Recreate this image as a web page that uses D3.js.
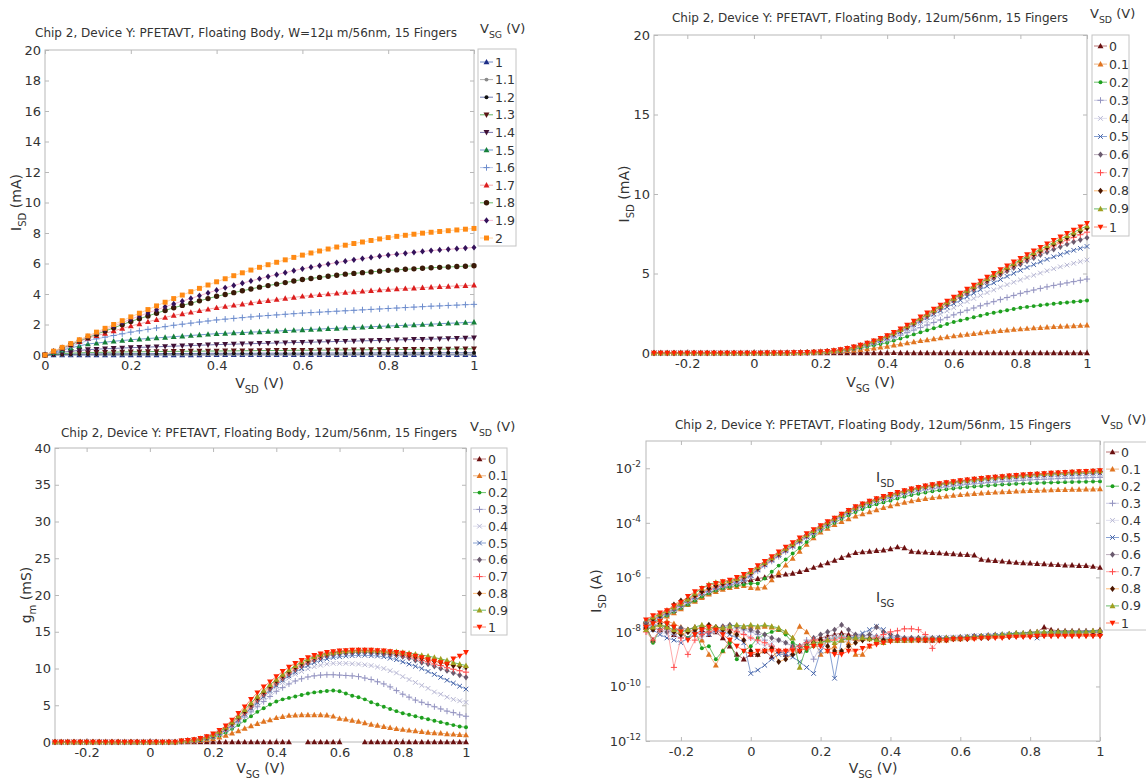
<!DOCTYPE html>
<html>
<head>
<meta charset="utf-8">
<script src="https://cdn.jsdelivr.net/npm/d3@7"></script>
<style>
  body { margin: 0; background: #fff; }
  text { font-family: "DejaVu Sans", Verdana, sans-serif; fill: #333; }
</style>
</head>
<body>
<svg id="chart" width="1146" height="783"></svg>
<script>
//---------------------------------- Output curves: I_SD (mA) vs V_SD, one row per V_SG
var vsdSweep = [0,0.02,0.04,0.06,0.08,0.1,0.12,0.14,0.16,0.18,0.2,0.22,0.24,0.26,0.28,0.3,0.32,0.34,0.36,0.38,0.4,0.42,0.44,0.46,0.48,0.5,0.52,0.54,0.56,0.58,0.6,0.62,0.64,0.66,0.68,0.7,0.72,0.74,0.76,0.78,0.8,0.82,0.84,0.86,0.88,0.9,0.92,0.94,0.96,0.98,1];
var vsgLevels = ["1","1.1","1.2","1.3","1.4","1.5","1.6","1.7","1.8","1.9","2"];
var outputIsd = [
  [0, 0,0.01,0.01,0.01,0.01, 0.01,0.01,0.01,0.01,0.01, 0.01,0.01,0.01,0.01,0.01, 0.01,0.01,0.01,0.02,0.02, 0.02,0.02,0.02,0.02,0.02, 0.02,0.02,0.02,0.02,0.02, 0.02,0.02,0.02,0.02,0.02, 0.02,0.02,0.02,0.02,0.02, 0.02,0.02,0.02,0.02,0.02, 0.02,0.02,0.02,0.02,0.02],
  [0, 0.01,0.02,0.02,0.03,0.03, 0.03,0.03,0.03,0.03,0.04, 0.04,0.04,0.04,0.04,0.04, 0.04,0.04,0.04,0.04,0.05, 0.05,0.05,0.05,0.05,0.05, 0.05,0.05,0.05,0.05,0.05, 0.05,0.05,0.05,0.05,0.05, 0.05,0.05,0.05,0.05,0.05, 0.05,0.06,0.06,0.06,0.06, 0.06,0.06,0.06,0.06,0.06],
  [0, 0.02,0.04,0.05,0.06,0.07, 0.07,0.08,0.08,0.08,0.09, 0.09,0.09,0.09,0.1,0.1, 0.1,0.1,0.1,0.11,0.11, 0.11,0.11,0.11,0.11,0.12, 0.12,0.12,0.12,0.12,0.12, 0.12,0.13,0.13,0.13,0.13, 0.13,0.13,0.13,0.14,0.14, 0.14,0.14,0.14,0.14,0.14, 0.15,0.15,0.15,0.15,0.15],
  [0, 0.05,0.09,0.12,0.14,0.16, 0.17,0.18,0.19,0.2,0.21, 0.21,0.22,0.23,0.23,0.24, 0.24,0.25,0.25,0.26,0.26, 0.27,0.27,0.28,0.28,0.29, 0.29,0.3,0.3,0.31,0.31, 0.31,0.32,0.32,0.33,0.33, 0.34,0.34,0.35,0.35,0.36, 0.36,0.37,0.37,0.38,0.38, 0.39,0.39,0.4,0.4,0.41],
  [0, 0.1,0.18,0.24,0.3,0.35, 0.38,0.41,0.43,0.46,0.48, 0.5,0.52,0.54,0.56,0.58, 0.6,0.62,0.64,0.66,0.68, 0.7,0.71,0.73,0.74,0.76, 0.77,0.79,0.8,0.82,0.83, 0.84,0.86,0.87,0.89,0.9, 0.91,0.93,0.94,0.96,0.97, 0.99,1.0,1.02,1.03,1.05, 1.06,1.08,1.09,1.11,1.12],
  [0, 0.16,0.32,0.46,0.6,0.72, 0.78,0.84,0.9,0.95,1.0, 1.04,1.08,1.12,1.16,1.2, 1.24,1.28,1.32,1.36,1.4, 1.42,1.45,1.47,1.5,1.52, 1.55,1.57,1.6,1.62,1.65, 1.68,1.7,1.73,1.75,1.78, 1.8,1.83,1.85,1.88,1.9, 1.92,1.95,1.97,2.0,2.02, 2.05,2.08,2.1,2.13,2.15],
  [0, 0.19,0.38,0.57,0.76,0.95, 1.06,1.17,1.28,1.39,1.5, 1.59,1.68,1.77,1.86,1.95, 2.02,2.09,2.16,2.23,2.3, 2.35,2.4,2.45,2.5,2.55, 2.59,2.63,2.67,2.71,2.75, 2.78,2.81,2.84,2.87,2.9, 2.93,2.96,2.99,3.02,3.05, 3.08,3.11,3.14,3.17,3.2, 3.22,3.25,3.27,3.3,3.32],
  [0, 0.22,0.44,0.66,0.88,1.1, 1.26,1.42,1.58,1.74,1.9, 2.04,2.18,2.32,2.46,2.6, 2.7,2.8,2.9,3.0,3.1, 3.18,3.26,3.34,3.42,3.5, 3.57,3.64,3.71,3.78,3.85, 3.9,3.95,4.0,4.05,4.1, 4.14,4.18,4.22,4.26,4.3, 4.33,4.36,4.39,4.42,4.45, 4.48,4.5,4.53,4.55,4.58],
  [0, 0.23,0.46,0.69,0.92,1.15, 1.36,1.57,1.78,1.99,2.2, 2.38,2.56,2.74,2.92,3.1, 3.25,3.4,3.55,3.7,3.85, 3.97,4.09,4.21,4.33,4.45, 4.55,4.65,4.75,4.85,4.95, 5.02,5.09,5.16,5.23,5.3, 5.35,5.4,5.45,5.5,5.55, 5.58,5.62,5.65,5.69,5.72, 5.75,5.77,5.8,5.82,5.85],
  [0, 0.24,0.48,0.72,0.96,1.2, 1.43,1.66,1.89,2.12,2.35, 2.56,2.76,2.96,3.16,3.35, 3.53,3.71,3.89,4.07,4.25, 4.41,4.56,4.71,4.86,5.0, 5.14,5.27,5.4,5.53,5.65, 5.76,5.86,5.96,6.06,6.15, 6.24,6.32,6.4,6.48,6.55, 6.61,6.67,6.73,6.79,6.85, 6.89,6.93,6.97,7.01,7.05],
  [0, 0.25,0.5,0.75,1.0,1.25, 1.5,1.75,2.0,2.25,2.5, 2.74,2.98,3.22,3.46,3.7, 3.93,4.15,4.37,4.59,4.8, 5.0,5.2,5.39,5.57,5.75, 5.92,6.08,6.24,6.4,6.55, 6.69,6.82,6.95,7.08,7.2, 7.31,7.41,7.51,7.61,7.7, 7.78,7.85,7.92,7.99,8.05, 8.1,8.15,8.2,8.25,8.3]
];

//---------------------------------- Transfer curves vs V_SG, one row per V_SD
var vsgSweep = [-0.3,-0.28,-0.26,-0.24,-0.22,-0.2,-0.18,-0.16,-0.14,-0.12,-0.1,-0.08,-0.06,-0.04,-0.02,0,0.02,0.04,0.06,0.08,0.1,0.12,0.14,0.16,0.18,0.2,0.22,0.24,0.26,0.28,0.3,0.32,0.34,0.36,0.38,0.4,0.42,0.44,0.46,0.48,0.5,0.52,0.54,0.56,0.58,0.6,0.62,0.64,0.66,0.68,0.7,0.72,0.74,0.76,0.78,0.8,0.82,0.84,0.86,0.88,0.9,0.92,0.94,0.96,0.98,1];
var vsdLevels = ["0","0.1","0.2","0.3","0.4","0.5","0.6","0.7","0.8","0.9","1"];

// I_SD in mA
var transferIsd = [
  [2.5e-5,3e-5,3.5e-5,4.5e-5,6e-5, 8e-5,1.1e-4,1.5e-4,2e-4,2.7e-4, 3.5e-4,4.3e-4,5.2e-4,6e-4,7e-4, 8e-4,9e-4,1e-3,1.1e-3,1.2e-3, 1.3e-3,1.4e-3,1.6e-3,1.9e-3,2.3e-3, 2.8e-3,3.4e-3,4.2e-3,5.3e-3,6.5e-3, 8e-3,8.5e-3,9e-3,9.5e-3,1e-2, 1.1e-2,1.3e-2,1.2e-2,9e-3,8.5e-3, 8.3e-3,8e-3,7.8e-3,7.5e-3,7.3e-3, 7e-3,6.8e-3,6.5e-3,4.5e-3,4.3e-3, 4.1e-3,3.9e-3,3.7e-3,3.5e-3,3.4e-3, 3.3e-3,3.2e-3,3.1e-3,3e-3,2.9e-3, 2.8e-3,2.8e-3,2.7e-3,2.7e-3,2.5e-3, 2.3e-3],
  [1.5e-5,2e-5,2.8e-5,3.8e-5,5e-5, 7e-5,1e-4,1.3e-4,1.8e-4,2.4e-4, 3e-4,3.6e-4,4.2e-4,4.6e-4,5e-4, 4.2e-4,4e-4,4.4e-4,8e-4,1.5e-3, 2.8e-3,5e-3,9e-3,1.6e-2,2.8e-2, 0.045,0.062,0.085,0.11,0.14, 0.175,0.21,0.25,0.3,0.36, 0.42,0.49,0.56,0.63,0.7, 0.77,0.83,0.89,0.95,1.01, 1.07,1.12,1.17,1.22,1.27, 1.32,1.36,1.4,1.44,1.48, 1.51,1.54,1.57,1.6,1.63, 1.65,1.67,1.69,1.71,1.73, 1.75],
  [1.6e-5,2.2e-5,3e-5,4e-5,5.5e-5, 7.5e-5,1e-4,1.4e-4,2e-4,2.6e-4, 3.3e-4,4e-4,4.5e-4,5e-4,5.5e-4, 6e-4,6e-4,9e-4,1.6e-3,2.7e-3, 4.5e-3,7.5e-3,1.2e-2,2e-2,3.3e-2, 0.052,0.073,0.1,0.14,0.19, 0.25,0.32,0.4,0.48,0.56, 0.65,0.78,0.91,1.04,1.17, 1.3,1.43,1.56,1.69,1.82, 1.95,2.05,2.15,2.25,2.35, 2.45,2.53,2.61,2.69,2.77, 2.85,2.9,2.95,3.0,3.05, 3.1,3.14,3.18,3.22,3.26, 3.3],
  [1.8e-5,2.5e-5,3.4e-5,4.5e-5,6e-5, 8.5e-5,1.2e-4,1.7e-4,2.4e-4,3e-4, 3.8e-4,4.6e-4,5.4e-4,6.2e-4,7.5e-4, 1e-3,1.7e-3,2.6e-3,3.9e-3,5.8e-3, 8.7e-3,1.3e-2,1.9e-2,2.8e-2,4e-2, 0.058,0.082,0.115,0.16,0.22, 0.3,0.39,0.49,0.59,0.69, 0.8,0.96,1.12,1.28,1.44, 1.6,1.76,1.92,2.08,2.24, 2.4,2.55,2.69,2.83,2.97, 3.1,3.23,3.36,3.49,3.62, 3.75,3.86,3.96,4.06,4.16, 4.25,4.33,4.41,4.49,4.57, 4.65],
  [2e-5,2.6e-5,3.5e-5,4.8e-5,6.5e-5, 9e-5,1.3e-4,1.8e-4,2.5e-4,3.2e-4, 4e-4,4.8e-4,5.6e-4,6.5e-4,8e-4, 1.1e-3,1.8e-3,2.8e-3,4.1e-3,6.1e-3, 9.2e-3,1.35e-2,2e-2,3e-2,4.3e-2, 0.062,0.087,0.122,0.17,0.235, 0.32,0.42,0.53,0.64,0.77, 0.9,1.08,1.27,1.46,1.65, 1.85,2.05,2.25,2.45,2.65, 2.85,3.05,3.24,3.43,3.62, 3.8,3.97,4.14,4.3,4.45, 4.6,4.75,4.89,5.03,5.17, 5.3,5.42,5.53,5.64,5.75, 5.85],
  [2e-5,2.8e-5,3.8e-5,5e-5,7e-5, 1e-4,1.4e-4,1.9e-4,2.6e-4,3.4e-4, 4.2e-4,5e-4,6e-4,7e-4,8.5e-4, 1.2e-3,1.9e-3,2.9e-3,4.3e-3,6.4e-3, 9.6e-3,1.4e-2,2.1e-2,3.1e-2,4.5e-2, 0.065,0.09,0.127,0.177,0.245, 0.33,0.43,0.54,0.66,0.8, 0.95,1.14,1.34,1.55,1.77, 2.0,2.22,2.44,2.66,2.88, 3.1,3.32,3.54,3.76,3.98, 4.2,4.41,4.62,4.82,5.01, 5.2,5.38,5.56,5.73,5.89, 6.05,6.19,6.33,6.46,6.58, 6.7],
  [2.3e-5,3e-5,4e-5,5e-5,7e-5, 1e-4,1.5e-4,2e-4,3e-4,3.5e-4, 4.5e-4,5.5e-4,6.5e-4,7.5e-4,9e-4, 1.3e-3,2e-3,3e-3,4.5e-3,6.7e-3, 1e-2,1.5e-2,2.2e-2,3.3e-2,4.7e-2, 0.068,0.095,0.133,0.185,0.255, 0.34,0.45,0.57,0.7,0.85, 1.01,1.19,1.39,1.6,1.83, 2.06,2.3,2.54,2.78,3.02, 3.26,3.5,3.74,3.98,4.22, 4.46,4.69,4.92,5.14,5.36, 5.57,5.78,5.98,6.17,6.35, 6.52,6.68,6.84,6.99,7.12, 7.25],
  [2e-5,3e-5,4.5e-5,6e-5,8e-5, 1.1e-4,1.5e-4,2e-4,2.8e-4,3.6e-4, 4.5e-4,5.5e-4,6.5e-4,8e-4,1e-3, 1.4e-3,2.1e-3,3.1e-3,4.7e-3,7e-3, 1.05e-2,1.55e-2,2.3e-2,3.4e-2,4.9e-2, 0.07,0.098,0.137,0.19,0.26, 0.35,0.46,0.58,0.71,0.86, 1.03,1.22,1.42,1.64,1.87, 2.11,2.36,2.61,2.86,3.1, 3.35,3.6,3.84,4.08,4.32, 4.56,4.8,5.03,5.26,5.49, 5.71,5.92,6.13,6.34,6.54, 6.74,6.92,7.1,7.27,7.44, 7.6],
  [2.2e-5,3e-5,4e-5,5.5e-5,1e-4, 1.4e-4,1.6e-4,2.2e-4,3e-4,4e-4, 5e-4,6e-4,7e-4,8.5e-4,1.1e-3, 1.5e-3,2.2e-3,3.3e-3,5e-3,7.4e-3, 1.1e-2,1.6e-2,2.4e-2,3.5e-2,5e-2, 0.072,0.1,0.14,0.195,0.27, 0.36,0.47,0.59,0.73,0.88, 1.05,1.24,1.45,1.67,1.91, 2.16,2.41,2.66,2.91,3.16, 3.41,3.66,3.9,4.14,4.38, 4.62,4.86,5.09,5.32,5.55, 5.77,5.99,6.21,6.42,6.63, 6.84,7.05,7.25,7.45,7.65, 7.85],
  [2.5e-5,3.5e-5,4.5e-5,6e-5,8e-5, 1.1e-4,1.6e-4,2.6e-4,4e-4,5.5e-4, 6.5e-4,7e-4,7.5e-4,9e-4,1.2e-3, 1.6e-3,2.4e-3,3.5e-3,5.2e-3,7.8e-3, 1.15e-2,1.7e-2,2.5e-2,3.6e-2,5.2e-2, 0.075,0.105,0.145,0.2,0.28, 0.37,0.48,0.6,0.74,0.9, 1.07,1.26,1.47,1.7,1.94, 2.19,2.44,2.69,2.94,3.19, 3.44,3.69,3.94,4.19,4.44, 4.68,4.92,5.16,5.4,5.63, 5.86,6.09,6.31,6.53,6.75, 6.96,7.17,7.38,7.59,7.8, 8.0],
  [2.8e-5,4e-5,5e-5,6e-5,9e-5, 1.2e-4,2e-4,3e-4,4e-4,5e-4, 6e-4,7e-4,8e-4,1e-3,1.3e-3, 1.8e-3,2.7e-3,3.9e-3,5.8e-3,8.6e-3, 1.3e-2,1.9e-2,2.8e-2,4e-2,5.7e-2, 0.08,0.11,0.15,0.21,0.29, 0.39,0.5,0.63,0.77,0.93, 1.1,1.3,1.52,1.76,2.01, 2.27,2.52,2.77,3.02,3.27, 3.52,3.77,4.02,4.27,4.52, 4.77,5.01,5.25,5.49,5.73, 5.96,6.19,6.42,6.65,6.87, 7.09,7.3,7.52,7.73,7.94, 8.15]
];

// g_m in mS (null = no point)
var transferGm = [
  [0,0,0,0,0, 0,0,0,0,0, 0,0,0,0,0, 0,0,0,0,0, 0,0,0,0,0, 0,0,0,0,0, 0,0,0,0,0, 0,0,0,null,null, 0,0,0,0,0, 0,null,null,null,0, 0,0,0,0,0, 0,0,0,0,0, 0,0,0,0,0, 0],
  [0,0,0,0,0, 0,0,0,0,0, 0,0,0,0,0, 0,0,0,0,0, 0.06,0.1,0.15,0.22,0.32, 0.45,0.65,0.9,1.2,1.5, 1.85,2.2,2.5,2.8,3.0, 3.3,3.45,3.6,3.65,3.7, 3.7,3.7,3.7,3.65,3.5, 3.2,3.1,2.95,2.8,2.6, 2.4,2.25,2.1,1.95,1.8, 1.7,1.6,1.5,1.4,1.3, 1.25,1.2,1.1,1.05,1.0, 0.95],
  [0,0,0,0,0, 0,0,0,0,0, 0,0,0,0,0, 0,0,0,0,0, 0.08,0.12,0.18,0.27,0.42, 0.6,0.9,1.3,1.8,2.3, 2.9,3.5,4.1,4.6,5.1, 5.5,5.8,6.0,6.2,6.4, 6.6,6.75,6.85,6.95,7.0, 6.9,6.6,6.3,6.1,5.8, 5.4,5.1,4.8,4.5,4.2, 3.9,3.7,3.5,3.3,3.1, 2.9,2.7,2.5,2.3,2.1, 2.0],
  [0,0,0,0,0, 0,0,0,0,0, 0,0,0,0,0, 0,0,0,0,0, 0.09,0.14,0.2,0.31,0.48, 0.7,1.0,1.5,2.0,2.7, 3.4,4.1,4.8,5.5,6.2, 6.9,7.4,7.9,8.3,8.6, 8.85,9.0,9.1,9.15,9.15, 9.1,9.05,9.0,8.9,8.7, 8.5,8.2,7.9,7.5,7.0, 6.5,6.1,5.7,5.4,5.1, 4.8,4.5,4.2,4.0,3.7, 3.5],
  [0,0,0,0,0, 0,0,0,0,0, 0,0,0,0,0, 0,0,0,0,0, 0.1,0.15,0.22,0.34,0.52, 0.75,1.1,1.6,2.2,2.9, 3.6,4.4,5.2,6.0,6.8, 7.5,8.1,8.7,9.2,9.6, 9.95,10.25,10.45,10.6,10.7, 10.7,10.7,10.65,10.6,10.5, 10.4,10.2,10.0,9.7,9.4, 8.9,8.5,8.1,7.7,7.3, 6.8,6.5,6.1,5.8,5.6, 5.4],
  [0,0,0,0,0, 0,0,0,0,0, 0,0,0,0,0, 0,0,0,0,0, 0.1,0.16,0.24,0.36,0.55, 0.8,1.2,1.7,2.3,3.0, 3.8,4.6,5.4,6.2,7.0, 7.7,8.4,9.0,9.5,10.0, 10.4,10.8,11.1,11.3,11.5, 11.6,11.7,11.75,11.8,11.8, 11.75,11.7,11.6,11.4,11.2, 10.9,10.6,10.3,10.0,9.6, 9.2,8.8,8.4,8.0,7.6, 7.2],
  [0,0,0,0,0, 0,0,0,0,0, 0,0,0,0,0, 0,0,0,0,0, 0.11,0.17,0.25,0.38,0.58, 0.85,1.25,1.75,2.4,3.1, 3.9,4.7,5.6,6.4,7.2, 7.9,8.6,9.2,9.8,10.3, 10.7,11.1,11.4,11.7,11.9, 12.0,12.1,12.15,12.2,12.2, 12.15,12.1,12.0,11.9,11.8, 11.6,11.4,11.1,10.8,10.6, 10.3,10.0,9.7,9.4,9.1, 8.8],
  [0,0,0,0,0, 0,0,0,0,0, 0,0,0,0,0, 0,0,0,0,0, 0.12,0.18,0.27,0.4,0.62, 0.9,1.3,1.8,2.5,3.2, 4.0,4.9,5.8,6.6,7.4, 8.1,8.8,9.4,10.0,10.5, 10.9,11.3,11.6,11.9,12.1, 12.2,12.3,12.35,12.4,12.4, 12.35,12.3,12.2,12.1,12.0, 11.8,11.6,11.4,11.1,10.9, 10.6,10.4,10.1,9.9,9.7, 9.5],
  [0,0,0,0,0, 0,0,0,0,0, 0,0,0,0,0, 0,0,0,0,0, 0.13,0.19,0.28,0.42,0.65, 0.95,1.4,1.9,2.6,3.4, 4.2,5.1,6.0,6.8,7.6, 8.3,9.0,9.6,10.2,10.7, 11.1,11.5,11.8,12.0,12.2, 12.3,12.35,12.4,12.45,12.45, 12.4,12.35,12.3,12.2,12.1, 12.0,11.8,11.6,11.4,11.2, 11.0,10.8,10.6,10.4,10.3, 10.2],
  [0,0,0,0,0, 0,0,0,0,0, 0,0,0,0,0, 0,0,0,0,0, 0.14,0.2,0.3,0.45,0.7, 1.0,1.45,2.0,2.7,3.5, 4.4,5.3,6.2,7.0,7.8, 8.5,9.2,9.8,10.4,10.9, 11.3,11.6,11.9,12.1,12.2, 12.3,12.4,12.45,12.5,12.5, 12.5,12.45,12.4,12.35,12.3, 12.2,12.1,11.95,11.8,11.7, 11.5,11.3,11.1,10.8,10.6, 10.4],
  [0,0,0,0,0, 0,0,0,0,0, 0,0,0,0,0, 0,0,0,0,0, 0.15,0.22,0.32,0.5,0.75, 1.1,1.6,2.2,3.0,3.9, 4.8,5.8,6.7,7.5,8.2, 8.9,9.6,10.2,10.7,11.1, 11.5,11.8,12.0,12.2,12.3, 12.4,12.45,12.5,12.5,12.5, 12.5,12.45,12.4,12.3,12.2, 12.1,11.9,11.7,11.5,11.2, 11.0,10.8,10.6,11.3,11.7, 12.2]
];

// I_SG in A
var transferIsg = [
  [1.5e-8,5e-9,1.2e-8,1.5e-8,8e-9, 1e-8,1.2e-8,1.5e-8,1.2e-8,8e-9, 1e-8,6e-9,3e-9,1.5e-9,1e-9, 1.5e-9,1.5e-9,2e-9,1.2e-9,2e-9, 1.5e-9,3e-9,2e-9,4e-9,5e-9, 6e-9,7e-9,8e-9,9e-9,8e-9, 7e-9,6e-9,6e-9,7e-9,6e-9, 5e-9,5e-9,5e-9,5.5e-9,6e-9, 5e-9,5e-9,5.5e-9,6e-9,6e-9, 6e-9,6.5e-9,7e-9,7e-9,7.5e-9, 8e-9,8e-9,8.5e-9,9e-9,9e-9, 1e-8,1e-8,1.5e-8,1.2e-8,1.1e-8, 1.1e-8,1.1e-8,1.1e-8,1.1e-8,1.1e-8, 1.2e-8],
  [2e-8,1.5e-8,2e-8,2.5e-8,2e-8, 1.5e-8,1.2e-8,8e-9,5e-9,1.5e-9, 6e-10,2e-9,5e-9,1.2e-8,1.6e-8, 1.6e-8,1.5e-8,1.6e-8,1.5e-8,1.2e-8, 1e-8,6e-9,1.6e-8,1e-8,5e-9, 1.5e-9,2e-9,3e-9,5e-9,4e-9, 1.5e-9,1.5e-9,3e-9,4e-9,5e-9, 5e-9,5e-9,5e-9,5e-9,5e-9, 5e-9,5e-9,5e-9,5e-9,5.5e-9, 5.5e-9,6e-9,6e-9,6.5e-9,6.5e-9, 7e-9,7e-9,7.5e-9,7.5e-9,8e-9, 8e-9,8e-9,8.5e-9,8.5e-9,9e-9, 9e-9,9e-9,9e-9,9e-9,9e-9, 9e-9],
  [1.5e-8,4e-9,1.2e-8,2e-8,1.5e-8, 1e-8,6e-9,1.2e-8,2.5e-9,3e-9, 1e-9,2e-9,4e-9,1e-9,2e-9, 3e-9,6e-9,8e-9,1e-8,1.2e-8, 8e-9,4e-9,3e-9,2e-9,3e-9, 4e-9,5e-9,6e-9,7e-9,6e-9, 5e-9,5e-9,5.5e-9,6e-9,5.5e-9, 5e-9,5e-9,5e-9,5e-9,5.5e-9, 5.5e-9,5.5e-9,6e-9,6e-9,6e-9, 6.5e-9,6.5e-9,7e-9,7e-9,7.5e-9, 7.5e-9,8e-9,8e-9,8.5e-9,8.5e-9, 9e-9,9e-9,9.5e-9,9.5e-9,1e-8, 1e-8,1e-8,1e-8,1e-8,1e-8, 1e-8],
  [1.5e-8,1.8e-8,2e-8,1.2e-8,8e-9, 6e-9,1e-8,1.2e-8,1.4e-8,1.2e-8, 1.4e-8,1e-8,1.2e-8,1.5e-8,1.2e-8, 1e-8,8e-9,5e-9,3e-9,2e-9, 2e-9,1.5e-9,3e-9,5e-9,1e-9, 3e-9,5e-9,6e-9,7e-9,6e-9, 6e-9,7e-9,8e-9,7e-9,6e-9, 6e-9,5.5e-9,5.5e-9,5.5e-9,5.5e-9, 5.5e-9,5.5e-9,6e-9,6e-9,6e-9, 6.5e-9,6.5e-9,7e-9,7e-9,7.5e-9, 7.5e-9,8e-9,8e-9,8e-9,8.5e-9, 8.5e-9,9e-9,9e-9,9e-9,9e-9, 9.5e-9,9.5e-9,9.5e-9,1e-8,1e-8, 1e-8],
  [2e-8,1.5e-8,1e-8,8e-9,1e-8, 1.2e-8,1e-8,8e-9,6e-9,8e-9, 1e-8,1.2e-8,1.4e-8,1.2e-8,1e-8, 6e-9,4e-9,3e-9,4e-9,5e-9, 4e-9,3e-9,2e-9,3e-9,4e-9, 5e-9,6e-9,7e-9,6e-9,5e-9, 6e-9,7e-9,7e-9,6e-9,6e-9, 6e-9,5.5e-9,5.5e-9,5.5e-9,5.5e-9, 6e-9,6e-9,6e-9,6e-9,6.5e-9, 6.5e-9,7e-9,7e-9,7e-9,7.5e-9, 7.5e-9,8e-9,8e-9,8e-9,8.5e-9, 8.5e-9,8.5e-9,9e-9,9e-9,9e-9, 9e-9,9e-9,9.5e-9,9.5e-9,9.5e-9, 9.5e-9],
  [1.8e-8,1.2e-8,8e-9,6e-9,5e-9, 4e-9,6e-9,8e-9,1e-8,8e-9, 1.2e-8,1e-8,8e-9,6e-9,4e-9, 3e-10,4e-10,6e-10,1e-9,1.5e-9, 1.5e-9,1.2e-9,8e-10,5e-10,3e-10, 2e-9,5e-9,2e-10,5e-9,6e-9, 7e-9,9e-9,1.2e-8,1.6e-8,1.2e-8, 7e-9,6e-9,5.5e-9,5.5e-9,5.5e-9, 5.5e-9,5.5e-9,6e-9,6e-9,6e-9, 6e-9,6.5e-9,7e-9,7e-9,7e-9, 7.5e-9,7.5e-9,8e-9,8e-9,8e-9, 8e-9,6e-9,8e-9,8.5e-9,9e-9, 9e-9,9e-9,9e-9,9.5e-9,9.5e-9, 9.5e-9],
  [2e-8,1.5e-8,1.2e-8,1e-8,1.2e-8, 1.4e-8,1.2e-8,1e-8,8e-9,1e-8, 1.2e-8,1.6e-8,1.8e-8,1.6e-8,1.4e-8, 1.2e-8,1e-8,8e-9,6e-9,5e-9, 4e-9,3e-9,3e-9,4e-9,6e-9, 8e-9,1e-8,1.2e-8,1.8e-8,1.2e-8, 8e-9,7e-9,8e-9,1.5e-8,1e-8, 8e-9,7e-9,6e-9,6e-9,6e-9, 6e-9,6e-9,6e-9,6e-9,6e-9, 6.5e-9,6.5e-9,7e-9,7e-9,7e-9, 7e-9,7.5e-9,7.5e-9,8e-9,8e-9, 8.5e-9,8.5e-9,9e-9,9e-9,9e-9, 9.5e-9,9.5e-9,9.5e-9,1e-8,1e-8, 1e-8],
  [1e-8,5e-9,1.2e-8,1.5e-8,5e-10, 6e-9,1.5e-9,5e-9,8e-9,1e-8, 1.2e-8,1.4e-8,1.2e-8,1e-8,8e-9, 6e-9,5e-9,4e-9,3e-9,2e-9, 2e-9,2.5e-9,3e-9,4e-9,5e-9, 5e-9,5e-9,5e-9,6e-9,6e-9, 5e-9,5e-9,5.5e-9,6e-9,8e-9, 1e-8,1.1e-8,1.3e-8,1.3e-8,1.2e-8, 8e-9,2.5e-9,5e-9,5.5e-9,5.5e-9, 6e-9,6e-9,6.5e-9,6.5e-9,7e-9, 7e-9,7e-9,7.5e-9,7.5e-9,7.5e-9, 8e-9,8e-9,8e-9,8e-9,8e-9, 8e-9,8e-9,8e-9,8e-9,8e-9, 8e-9],
  [1.5e-8,1.2e-8,2e-8,1.5e-8,1e-8, 8e-9,1e-8,1.2e-8,1.5e-8,1.8e-8, 1.5e-8,1.2e-8,1e-8,8e-9,5e-9, 2e-9,1.5e-9,2e-9,2.5e-9,8e-10, 1e-9,1.5e-9,2e-9,3e-9,4e-9, 5e-9,3e-9,2e-9,2e-9,3e-9, 4e-9,5e-9,5.5e-9,5e-9,5e-9, 5e-9,5e-9,5e-9,5e-9,5e-9, 5e-9,5e-9,5e-9,5e-9,5.5e-9, 5.5e-9,5.5e-9,6e-9,6e-9,6e-9, 6.5e-9,6.5e-9,6.5e-9,7e-9,7e-9, 7e-9,7e-9,7.5e-9,7.5e-9,7.5e-9, 7.5e-9,7.5e-9,7.5e-9,7.5e-9,7.5e-9, 7.5e-9],
  [1.2e-8,1.5e-8,1.8e-8,1.5e-8,1.2e-8, 1e-8,1.2e-8,1.5e-8,1.8e-8,1.4e-8, 1.5e-8,1.4e-8,1.6e-8,1.8e-8,1.6e-8, 1.8e-8,1.6e-8,1.8e-8,1.6e-8,1.4e-8, 1e-8,6e-9,5e-10,3e-9,4e-9, 4e-9,5e-9,4e-9,5e-9,6e-9, 6e-9,6e-9,5.5e-9,5e-9,4e-9, 5e-9,5e-9,5e-9,5e-9,5.5e-9, 5.5e-9,5.5e-9,5.5e-9,6e-9,6e-9, 6e-9,6.5e-9,6.5e-9,7e-9,7e-9, 7.5e-9,8e-9,8.5e-9,9e-9,9e-9, 9.5e-9,1e-8,1e-8,1e-8,1e-8, 1e-8,1e-8,1e-8,1e-8,1.1e-8, 1.1e-8],
  [1.5e-8,2e-8,2.5e-8,2e-8,1.5e-8, 1e-8,5e-9,8e-9,1.2e-8,1.5e-8, 1.2e-8,8e-9,5e-9,3e-9,2e-9, 1.5e-9,2e-9,2e-9,2e-9,2e-9, 2e-9,2e-9,2e-9,2.5e-9,3e-9, 3e-9,2e-9,1.5e-9,1.5e-9,2e-9, 2e-9,2.5e-9,3e-9,3.5e-9,4e-9, 4.5e-9,5e-9,5e-9,5e-9,5e-9, 5e-9,5e-9,5e-9,5e-9,5.5e-9, 5.5e-9,5.5e-9,5.5e-9,6e-9,6e-9, 6e-9,6e-9,6.5e-9,6.5e-9,6.5e-9, 6.5e-9,7e-9,7e-9,7e-9,7e-9, 7e-9,7e-9,7e-9,7e-9,7e-9, 7e-9]
];

// tick values
var outXTicks = [0,0.2,0.4,0.6,0.8,1];
var outYTicks = [0,2,4,6,8,10,12,14,16,18,20];
var trXTicks = [-0.2,0,0.2,0.4,0.6,0.8,1];
var isdYTicks = [0,5,10,15,20];
var gmYTicks = [0,5,10,15,20,25,30,35,40];
var logYTicks = [1e-12,1e-10,1e-8,1e-6,1e-4,1e-2];
var logYExp = ["-12","-10","-8","-6","-4","-2"];

// series styles (line colour, marker colour, marker shape)
var outStyles = [
  {line:"#4f6fb8", mark:"#1d2d86", shape:"tu"},
  {line:"#9a9a9a", mark:"#8a8a8a", shape:"."},
  {line:"#4a5aa0", mark:"#111111", shape:"."},
  {line:"#3c9c3c", mark:"#5a1414", shape:"td"},
  {line:"#55559a", mark:"#401035", shape:"td"},
  {line:"#4f7fc0", mark:"#16803a", shape:"tu"},
  {line:"#a6b8e4", mark:"#6c8ccc", shape:"+"},
  {line:"#f29494", mark:"#dc1e1e", shape:"tu"},
  {line:"#44a844", mark:"#3a1a08", shape:"o"},
  {line:"#f2a6c6", mark:"#34125a", shape:"d"},
  {line:"#ffc88e", mark:"#ff8a14", shape:"s"}
];
var trStyles = [
  {line:"#a85050", mark:"#6a1010", shape:"tu"},
  {line:"#e8a062", mark:"#e07420", shape:"tu"},
  {line:"#44b044", mark:"#1ea01e", shape:"."},
  {line:"#bcbcdc", mark:"#9494c0", shape:"+"},
  {line:"#d8d8ea", mark:"#b8b8d4", shape:"x"},
  {line:"#6a8ac8", mark:"#4462a6", shape:"x"},
  {line:"#a898a8", mark:"#6a5a6e", shape:"d"},
  {line:"#ff9494", mark:"#ff4a4a", shape:"+"},
  {line:"#ffaa50", mark:"#4a1600", shape:"d"},
  {line:"#44a844", mark:"#a0a020", shape:"tu"},
  {line:"#ff6040", mark:"#ff2200", shape:"td"}
];

//---------------------------------- drawing helpers
var svg = d3.select("#chart");

function markerPath(shape, r) {
  if (shape == "tu") return "M0," + (-r) + "L" + (r * 0.95) + "," + (r * 0.75) + "L" + (-r * 0.95) + "," + (r * 0.75) + "Z";
  if (shape == "td") return "M0," + r + "L" + (r * 0.95) + "," + (-r * 0.75) + "L" + (-r * 0.95) + "," + (-r * 0.75) + "Z";
  if (shape == "s") return "M" + (-r * 0.8) + "," + (-r * 0.8) + "h" + (1.6 * r) + "v" + (1.6 * r) + "h" + (-1.6 * r) + "Z";
  if (shape == "d") return "M0," + (-r) + "L" + (r * 0.8) + ",0L0," + r + "L" + (-r * 0.8) + ",0Z";
  if (shape == "o") return d3.symbol(d3.symbolCircle, Math.PI * r * r * 0.75)();
  if (shape == ".") return d3.symbol(d3.symbolCircle, Math.PI * r * r * 0.4)();
  if (shape == "+") return "M" + (-r) + ",0H" + r + "M0," + (-r) + "V" + r;
  // x
  var k = r * 0.75;
  return "M" + (-k) + "," + (-k) + "L" + k + "," + k + "M" + (-k) + "," + k + "L" + k + "," + (-k);
}

function paintMarker(sel, st, r) {
  sel.attr("d", markerPath(st.shape, r));
  if (st.shape == "+" || st.shape == "x") sel.attr("fill", "none").attr("stroke", st.mark).attr("stroke-width", 1);
  else sel.attr("fill", st.mark).attr("stroke", "none");
}

// text with sub/superscripts: parts = [[text, ""|"sub"|"sup"], ...]
function richText(g, parts, size) {
  var t = g.append("text").style("font-size", size + "px");
  var shift = 0;
  parts.forEach(function(p) {
    var want = p[1] == "sub" ? size * 0.35 : (p[1] == "sup" ? -size * 0.45 : 0);
    var ts = t.append("tspan").text(p[0]).attr("dy", want - shift);
    if (p[1]) ts.style("font-size", (size * 0.72) + "px");
    shift = want;
  });
  return t;
}

function fmt(d) { return String(Math.round(d * 10) / 10); }

function drawPanel(p) {
  var g = svg.append("g");
  var x = d3.scaleLinear().domain(p.xDomain).range([p.left, p.right]);
  var y = (p.log ? d3.scaleLog() : d3.scaleLinear()).domain(p.yDomain).range([p.bottom, p.top]);

  // axes: ticks pointing inwards on all four sides
  g.append("g").attr("transform", "translate(0," + p.bottom + ")")
    .call(d3.axisBottom(x).tickValues(p.xTicks).tickSize(-4).tickPadding(6).tickFormat(fmt));
  g.append("g").attr("transform", "translate(0," + p.top + ")")
    .call(d3.axisTop(x).tickValues(p.xTicks).tickSize(-4).tickFormat(""));
  var yl = d3.axisLeft(y).tickValues(p.yTicks).tickSize(-4).tickPadding(4).tickFormat(p.log ? "" : fmt);
  g.append("g").attr("transform", "translate(" + p.left + ",0)").call(yl);
  g.append("g").attr("transform", "translate(" + p.right + ",0)")
    .call(d3.axisRight(y).tickValues(p.yTicks).tickSize(-4).tickFormat(""));
  g.selectAll(".domain").remove();
  g.selectAll(".tick line").attr("stroke", "#b8b8b8");
  g.selectAll(".tick text").style("font-size", "13px");
  g.append("rect").attr("x", p.left).attr("y", p.top)
    .attr("width", p.right - p.left).attr("height", p.bottom - p.top)
    .attr("fill", "none").attr("stroke", "#b8b8b8");

  if (p.log) {
    logYTicks.forEach(function(v, i) {
      var t = richText(g, [["10", ""], [logYExp[i], "sup"]], 13);
      t.attr("x", p.left - 5).attr("y", y(v) + 5).attr("text-anchor", "end");
      t.select("tspan:last-child").style("font-size", "9px");
    });
  }

  // curves
  var ok = function(d) { return d[1] != null && (!p.log || d[1] > 0); };
  var line = d3.line().defined(ok).x(function(d) { return x(d[0]); }).y(function(d) { return y(d[1]); });
  p.series.forEach(function(s) {
    var pts = s.ys.map(function(v, i) { return [s.xs[i], v == null ? null : v * (s.k || 1)]; });
    g.append("path").attr("d", line(pts)).attr("fill", "none")
      .attr("stroke", s.style.line).attr("stroke-width", 0.8);
    g.append("g").selectAll("path").data(pts.filter(ok)).enter().append("path")
      .attr("transform", function(d) { return "translate(" + x(d[0]) + "," + y(d[1]) + ")"; })
      .call(paintMarker, s.style, p.mr);
  });

  // title and labels
  g.append("text").attr("x", p.titleX).attr("y", p.titleY).attr("text-anchor", "middle")
    .style("font-size", "12px").attr("fill", "#222").text(p.title);
  richText(g, p.xLabel, 14).attr("x", (p.left + p.right) / 2).attr("y", p.xLabelY).attr("text-anchor", "middle");
  richText(g, p.yLabel, 14).attr("text-anchor", "middle")
    .attr("transform", "translate(" + p.yLabelX + "," + ((p.top + p.bottom) / 2) + ") rotate(-90)");

  // legend
  var L = p.legend;
  richText(g, L.title, 13).attr("x", L.titleX).attr("y", L.titleY);
  g.append("rect").attr("x", L.x).attr("y", L.y).attr("width", L.w).attr("height", L.h)
    .attr("fill", "#fff").attr("stroke", "#c4c4c4");
  L.labels.forEach(function(lab, i) {
    var yy = L.row0 + i * L.step;
    var st = L.styles[i];
    g.append("line").attr("x1", L.x + 2).attr("x2", L.x + 15).attr("y1", yy).attr("y2", yy)
      .attr("stroke", st.line).attr("stroke-width", 0.8);
    g.append("path").attr("transform", "translate(" + (L.x + 8.5) + "," + yy + ")").call(paintMarker, st, p.mr);
    g.append("text").attr("x", L.x + 17).attr("y", yy + 4.5).style("font-size", "12.5px").text(lab);
  });
  return { g: g, x: x, y: y };
}

function seriesOf(rows, xs, styles, k) {
  return rows.map(function(r, i) { return { xs: xs, ys: r, style: styles[i], k: k }; });
}

var subSG = [["V", ""], ["SG", "sub"], [" (V)", ""]];
var subSD = [["V", ""], ["SD", "sub"], [" (V)", ""]];
var trTitle = "Chip 2, Device Y: PFETAVT, Floating Body, 12um/56nm, 15 Fingers";

//---------------------------------- Top left: output characteristics
drawPanel({
  left: 45, right: 474, top: 50, bottom: 355, mr: 3.1,
  xDomain: [0, 1], yDomain: [0, 20], xTicks: outXTicks, yTicks: outYTicks,
  series: seriesOf(outputIsd, vsdSweep, outStyles, 1),
  title: "Chip 2, Device Y: PFETAVT, Floating Body, W=12\u03bc m/56nm, 15 Fingers", titleX: 246, titleY: 37,
  xLabel: subSD, xLabelY: 388,
  yLabel: [["I", ""], ["SD", "sub"], [" (mA)", ""]], yLabelX: 21,
  legend: { title: subSG, titleX: 480, titleY: 33, x: 478, y: 49, w: 38, h: 197, row0: 62, step: 17.6,
            labels: vsgLevels, styles: outStyles }
});

//---------------------------------- Top right: I_SD vs V_SG (linear)
drawPanel({
  left: 654, right: 1087, top: 35, bottom: 353, mr: 3.1,
  xDomain: [-0.3, 1], yDomain: [0, 20], xTicks: trXTicks, yTicks: isdYTicks,
  series: seriesOf(transferIsd, vsgSweep, trStyles, 1),
  title: trTitle, titleX: 870, titleY: 22,
  xLabel: subSG, xLabelY: 387,
  yLabel: [["I", ""], ["SD", "sub"], [" (mA)", ""]], yLabelX: 629,
  legend: { title: subSD, titleX: 1090, titleY: 18, x: 1092, y: 35, w: 37, h: 201, row0: 46, step: 18.1,
            labels: vsdLevels, styles: trStyles }
});

//---------------------------------- Bottom left: g_m vs V_SG
drawPanel({
  left: 55, right: 466, top: 448, bottom: 742, mr: 3.1,
  xDomain: [-0.3, 1], yDomain: [0, 40], xTicks: trXTicks, yTicks: gmYTicks,
  series: seriesOf(transferGm, vsgSweep, trStyles, 1),
  title: trTitle, titleX: 259, titleY: 437,
  xLabel: subSG, xLabelY: 773,
  yLabel: [["g", ""], ["m", "sub"], [" (mS)", ""]], yLabelX: 31,
  legend: { title: subSD, titleX: 470, titleY: 431, x: 471, y: 448, w: 36, h: 187, row0: 459, step: 16.8,
            labels: vsdLevels, styles: trStyles }
});

//---------------------------------- Bottom right: I_SD and I_SG vs V_SG (log)
var logSeries = seriesOf(transferIsd, vsgSweep, trStyles, 1e-3).concat(seriesOf(transferIsg, vsgSweep, trStyles, 1));
var p4 = drawPanel({
  left: 646, right: 1100, top: 441, bottom: 741, mr: 3.1, log: true,
  xDomain: [-0.3, 1], yDomain: [1e-12, 1e-1], xTicks: trXTicks, yTicks: logYTicks,
  series: logSeries,
  title: trTitle, titleX: 873, titleY: 429,
  xLabel: subSG, xLabelY: 773,
  yLabel: [["I", ""], ["SD", "sub"], [" (A)", ""]], yLabelX: 601,
  legend: { title: subSD, titleX: 1101, titleY: 424, x: 1104, y: 442, w: 46, h: 188, row0: 452, step: 17.1,
            labels: vsdLevels, styles: trStyles }
});
richText(p4.g, [["I", ""], ["SD", "sub"]], 14).attr("x", 876).attr("y", 482);
richText(p4.g, [["I", ""], ["SG", "sub"]], 14).attr("x", 876).attr("y", 602);
</script>
</body>
</html>
